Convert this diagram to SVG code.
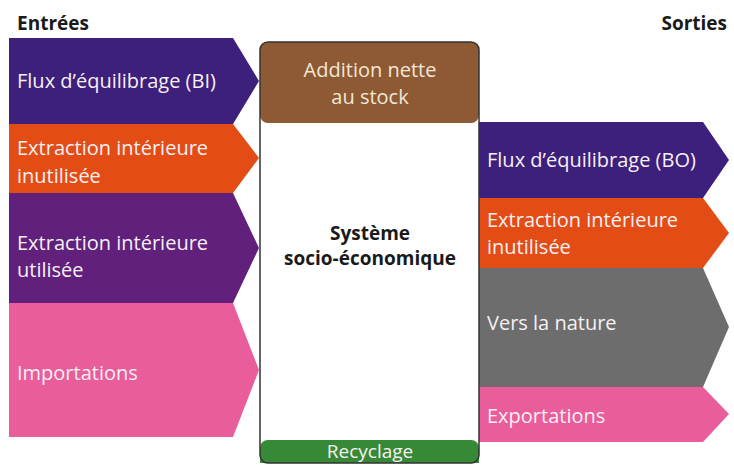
<svg xmlns="http://www.w3.org/2000/svg" width="734" height="465" viewBox="0 0 734 465">
<style>
.t{font-family:"Open Sans","Noto Sans",sans-serif;font-size:20px;fill:#f6f0f4}
.h{font-family:"Open Sans","Noto Sans",sans-serif;font-size:19px;font-weight:bold;fill:#1a1a1a}
.c{text-anchor:middle}
</style>
<rect width="734" height="465" fill="#ffffff"/>
<text class="h" x="17" y="30">Entrées</text>
<text class="h" x="727" y="30" text-anchor="end">Sorties</text>
<g id="in-flux-bi">
<polygon points="9,38 233,38 259,81 233,124 9,124" fill="#3d1f7c"/>
<text class="t" x="17" y="88">Flux d’équilibrage (BI)</text>
</g>
<g id="in-extraction-inutilisee">
<polygon points="9,124 233,124 259,158 233,193 9,193" fill="#e34d15"/>
<text class="t" x="17" y="155">Extraction intérieure</text>
<text class="t" x="17" y="183">inutilisée</text>
</g>
<g id="in-extraction-utilisee">
<polygon points="9,193 233,193 259,248 233,303 9,303" fill="#61207c"/>
<text class="t" x="17" y="250">Extraction intérieure</text>
<text class="t" x="17" y="277">utilisée</text>
</g>
<g id="in-importations">
<polygon points="9,303 233,303 259,370 233,437 9,437" fill="#e95d9b"/>
<text class="t" x="17" y="380">Importations</text>
</g>
<g id="out-flux-bo">
<polygon points="479,122 703,122 729,160 703,198 479,198" fill="#3d1f7c"/>
<text class="t" x="487" y="167">Flux d’équilibrage (BO)</text>
</g>
<g id="out-extraction-inutilisee">
<polygon points="479,198 703,198 729,233 703,268 479,268" fill="#e34d15"/>
<text class="t" x="487" y="227">Extraction intérieure</text>
<text class="t" x="487" y="254">inutilisée</text>
</g>
<g id="out-nature">
<polygon points="479,268 703,268 729,327 703,387 479,387" fill="#6d6d6d"/>
<text class="t" x="487" y="330">Vers la nature</text>
</g>
<g id="out-exportations">
<polygon points="479,387 703,387 729,414 703,442 479,442" fill="#e95d9b"/>
<text class="t" x="487" y="423">Exportations</text>
</g>
<g id="systeme">
<rect x="260" y="42" width="219" height="421" rx="8" fill="#ffffff"/>
<rect x="260" y="42" width="219" height="81" rx="8" fill="#8d5a33"/>
<path d="M260,463 V448 a8,8 0 0 1 8,-8 H471 a8,8 0 0 1 8,8 V463 Z" fill="#368a35"/>
<rect x="260" y="42" width="219" height="421" rx="8" fill="none" stroke="#333333" stroke-width="1.5"/>
<text class="t c" x="370" y="77" style="fill:#f3e6d8">Addition nette</text>
<text class="t c" x="370" y="104" style="fill:#f3e6d8">au stock</text>
<text class="h c" x="370" y="240">Système</text>
<text class="h c" x="370" y="265">socio-économique</text>
<text class="t c" x="370" y="458" style="font-size:19px">Recyclage</text>
</g>
<g id="connectors"></g>
</svg>
